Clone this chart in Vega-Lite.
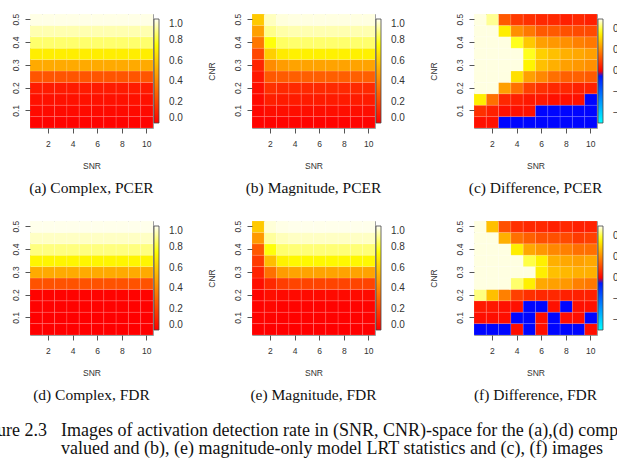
{
"$schema": "https://vega.github.io/schema/vega-lite/v6.json",
"padding": {"left": -27, "top": 12, "right": -17, "bottom": 0},
"background": "white",
"config": {
  "view": {"stroke": "#999", "strokeWidth": 1},
  "font": "Liberation Sans",
  "axis": {"labelFont": "Liberation Sans", "labelFontSize": 8.5, "labelColor": "#333", "titleFont": "Liberation Sans", "titleFontSize": 8.5, "titleFontWeight": "normal", "titleColor": "#333", "tickColor": "#555", "tickSize": 5, "domain": false, "grid": false},
  "axisX": {"labelPadding": 6, "titlePadding": 14, "labelAngle": 0},
  "axisY": {"labelPadding": 5, "titlePadding": 17, "labelAngle": -90},
  "legend": {"gradientLength": 104, "gradientThickness": 5, "gradientStrokeColor": "#444", "gradientStrokeWidth": 0.8, "labelFont": "Liberation Sans", "labelFontSize": 10, "labelColor": "#333", "padding": 5, "offset": -4, "labelOverlap": false},
  "title": {"font": "Liberation Serif", "fontSize": 15.5, "fontWeight": "normal", "color": "#111", "orient": "bottom", "anchor": "middle", "frame": "group", "offset": 11},
  "concat": {"spacing": 17}
},
"datasets": {
"a": [
{"snr":1,"cnr":0.05,"rate":0.01},{"snr":1,"cnr":0.1,"rate":0.03},{"snr":1,"cnr":0.15,"rate":0.05},{"snr":1,"cnr":0.2,"rate":0.08},{"snr":1,"cnr":0.25,"rate":0.25},{"snr":1,"cnr":0.3,"rate":0.5},{"snr":1,"cnr":0.35,"rate":0.7},{"snr":1,"cnr":0.4,"rate":0.86},{"snr":1,"cnr":0.45,"rate":0.93},{"snr":1,"cnr":0.5,"rate":0.985},
{"snr":2,"cnr":0.05,"rate":0.01},{"snr":2,"cnr":0.1,"rate":0.03},{"snr":2,"cnr":0.15,"rate":0.05},{"snr":2,"cnr":0.2,"rate":0.08},{"snr":2,"cnr":0.25,"rate":0.25},{"snr":2,"cnr":0.3,"rate":0.5},{"snr":2,"cnr":0.35,"rate":0.7},{"snr":2,"cnr":0.4,"rate":0.86},{"snr":2,"cnr":0.45,"rate":0.93},{"snr":2,"cnr":0.5,"rate":0.985},
{"snr":3,"cnr":0.05,"rate":0.01},{"snr":3,"cnr":0.1,"rate":0.03},{"snr":3,"cnr":0.15,"rate":0.05},{"snr":3,"cnr":0.2,"rate":0.08},{"snr":3,"cnr":0.25,"rate":0.25},{"snr":3,"cnr":0.3,"rate":0.5},{"snr":3,"cnr":0.35,"rate":0.7},{"snr":3,"cnr":0.4,"rate":0.86},{"snr":3,"cnr":0.45,"rate":0.93},{"snr":3,"cnr":0.5,"rate":0.985},
{"snr":4,"cnr":0.05,"rate":0.01},{"snr":4,"cnr":0.1,"rate":0.03},{"snr":4,"cnr":0.15,"rate":0.05},{"snr":4,"cnr":0.2,"rate":0.08},{"snr":4,"cnr":0.25,"rate":0.25},{"snr":4,"cnr":0.3,"rate":0.5},{"snr":4,"cnr":0.35,"rate":0.7},{"snr":4,"cnr":0.4,"rate":0.86},{"snr":4,"cnr":0.45,"rate":0.93},{"snr":4,"cnr":0.5,"rate":0.985},
{"snr":5,"cnr":0.05,"rate":0.01},{"snr":5,"cnr":0.1,"rate":0.03},{"snr":5,"cnr":0.15,"rate":0.05},{"snr":5,"cnr":0.2,"rate":0.08},{"snr":5,"cnr":0.25,"rate":0.25},{"snr":5,"cnr":0.3,"rate":0.5},{"snr":5,"cnr":0.35,"rate":0.7},{"snr":5,"cnr":0.4,"rate":0.86},{"snr":5,"cnr":0.45,"rate":0.93},{"snr":5,"cnr":0.5,"rate":0.985},
{"snr":6,"cnr":0.05,"rate":0.01},{"snr":6,"cnr":0.1,"rate":0.03},{"snr":6,"cnr":0.15,"rate":0.05},{"snr":6,"cnr":0.2,"rate":0.08},{"snr":6,"cnr":0.25,"rate":0.25},{"snr":6,"cnr":0.3,"rate":0.5},{"snr":6,"cnr":0.35,"rate":0.7},{"snr":6,"cnr":0.4,"rate":0.86},{"snr":6,"cnr":0.45,"rate":0.93},{"snr":6,"cnr":0.5,"rate":0.985},
{"snr":7,"cnr":0.05,"rate":0.01},{"snr":7,"cnr":0.1,"rate":0.03},{"snr":7,"cnr":0.15,"rate":0.05},{"snr":7,"cnr":0.2,"rate":0.08},{"snr":7,"cnr":0.25,"rate":0.25},{"snr":7,"cnr":0.3,"rate":0.5},{"snr":7,"cnr":0.35,"rate":0.7},{"snr":7,"cnr":0.4,"rate":0.86},{"snr":7,"cnr":0.45,"rate":0.93},{"snr":7,"cnr":0.5,"rate":0.985},
{"snr":8,"cnr":0.05,"rate":0.01},{"snr":8,"cnr":0.1,"rate":0.03},{"snr":8,"cnr":0.15,"rate":0.05},{"snr":8,"cnr":0.2,"rate":0.08},{"snr":8,"cnr":0.25,"rate":0.25},{"snr":8,"cnr":0.3,"rate":0.5},{"snr":8,"cnr":0.35,"rate":0.7},{"snr":8,"cnr":0.4,"rate":0.86},{"snr":8,"cnr":0.45,"rate":0.93},{"snr":8,"cnr":0.5,"rate":0.985},
{"snr":9,"cnr":0.05,"rate":0.01},{"snr":9,"cnr":0.1,"rate":0.03},{"snr":9,"cnr":0.15,"rate":0.05},{"snr":9,"cnr":0.2,"rate":0.08},{"snr":9,"cnr":0.25,"rate":0.25},{"snr":9,"cnr":0.3,"rate":0.5},{"snr":9,"cnr":0.35,"rate":0.7},{"snr":9,"cnr":0.4,"rate":0.86},{"snr":9,"cnr":0.45,"rate":0.93},{"snr":9,"cnr":0.5,"rate":0.985},
{"snr":10,"cnr":0.05,"rate":0.01},{"snr":10,"cnr":0.1,"rate":0.03},{"snr":10,"cnr":0.15,"rate":0.05},{"snr":10,"cnr":0.2,"rate":0.08},{"snr":10,"cnr":0.25,"rate":0.25},{"snr":10,"cnr":0.3,"rate":0.5},{"snr":10,"cnr":0.35,"rate":0.7},{"snr":10,"cnr":0.4,"rate":0.86},{"snr":10,"cnr":0.45,"rate":0.93},{"snr":10,"cnr":0.5,"rate":0.985}
],
"b": [
{"snr":1,"cnr":0.05,"rate":0.01},{"snr":1,"cnr":0.1,"rate":0.02},{"snr":1,"cnr":0.15,"rate":0.03},{"snr":1,"cnr":0.2,"rate":0.04},{"snr":1,"cnr":0.25,"rate":0.07},{"snr":1,"cnr":0.3,"rate":0.11},{"snr":1,"cnr":0.35,"rate":0.21},{"snr":1,"cnr":0.4,"rate":0.35},{"snr":1,"cnr":0.45,"rate":0.47},{"snr":1,"cnr":0.5,"rate":0.59},
{"snr":2,"cnr":0.05,"rate":0.01},{"snr":2,"cnr":0.1,"rate":0.04},{"snr":2,"cnr":0.15,"rate":0.09},{"snr":2,"cnr":0.2,"rate":0.14},{"snr":2,"cnr":0.25,"rate":0.26},{"snr":2,"cnr":0.3,"rate":0.41},{"snr":2,"cnr":0.35,"rate":0.61},{"snr":2,"cnr":0.4,"rate":0.76},{"snr":2,"cnr":0.45,"rate":0.89},{"snr":2,"cnr":0.5,"rate":0.945},
{"snr":3,"cnr":0.05,"rate":0.01},{"snr":3,"cnr":0.1,"rate":0.04},{"snr":3,"cnr":0.15,"rate":0.08},{"snr":3,"cnr":0.2,"rate":0.12},{"snr":3,"cnr":0.25,"rate":0.27},{"snr":3,"cnr":0.3,"rate":0.46},{"snr":3,"cnr":0.35,"rate":0.69},{"snr":3,"cnr":0.4,"rate":0.85},{"snr":3,"cnr":0.45,"rate":0.92},{"snr":3,"cnr":0.5,"rate":0.975},
{"snr":4,"cnr":0.05,"rate":0.01},{"snr":4,"cnr":0.1,"rate":0.04},{"snr":4,"cnr":0.15,"rate":0.08},{"snr":4,"cnr":0.2,"rate":0.12},{"snr":4,"cnr":0.25,"rate":0.28},{"snr":4,"cnr":0.3,"rate":0.48},{"snr":4,"cnr":0.35,"rate":0.71},{"snr":4,"cnr":0.4,"rate":0.86},{"snr":4,"cnr":0.45,"rate":0.93},{"snr":4,"cnr":0.5,"rate":0.98},
{"snr":5,"cnr":0.05,"rate":0.01},{"snr":5,"cnr":0.1,"rate":0.04},{"snr":5,"cnr":0.15,"rate":0.08},{"snr":5,"cnr":0.2,"rate":0.12},{"snr":5,"cnr":0.25,"rate":0.28},{"snr":5,"cnr":0.3,"rate":0.48},{"snr":5,"cnr":0.35,"rate":0.71},{"snr":5,"cnr":0.4,"rate":0.86},{"snr":5,"cnr":0.45,"rate":0.93},{"snr":5,"cnr":0.5,"rate":0.98},
{"snr":6,"cnr":0.05,"rate":0.01},{"snr":6,"cnr":0.1,"rate":0.04},{"snr":6,"cnr":0.15,"rate":0.08},{"snr":6,"cnr":0.2,"rate":0.12},{"snr":6,"cnr":0.25,"rate":0.28},{"snr":6,"cnr":0.3,"rate":0.48},{"snr":6,"cnr":0.35,"rate":0.71},{"snr":6,"cnr":0.4,"rate":0.86},{"snr":6,"cnr":0.45,"rate":0.93},{"snr":6,"cnr":0.5,"rate":0.98},
{"snr":7,"cnr":0.05,"rate":0.01},{"snr":7,"cnr":0.1,"rate":0.04},{"snr":7,"cnr":0.15,"rate":0.08},{"snr":7,"cnr":0.2,"rate":0.12},{"snr":7,"cnr":0.25,"rate":0.28},{"snr":7,"cnr":0.3,"rate":0.48},{"snr":7,"cnr":0.35,"rate":0.71},{"snr":7,"cnr":0.4,"rate":0.86},{"snr":7,"cnr":0.45,"rate":0.93},{"snr":7,"cnr":0.5,"rate":0.98},
{"snr":8,"cnr":0.05,"rate":0.01},{"snr":8,"cnr":0.1,"rate":0.04},{"snr":8,"cnr":0.15,"rate":0.08},{"snr":8,"cnr":0.2,"rate":0.12},{"snr":8,"cnr":0.25,"rate":0.28},{"snr":8,"cnr":0.3,"rate":0.48},{"snr":8,"cnr":0.35,"rate":0.71},{"snr":8,"cnr":0.4,"rate":0.86},{"snr":8,"cnr":0.45,"rate":0.93},{"snr":8,"cnr":0.5,"rate":0.98},
{"snr":9,"cnr":0.05,"rate":0.01},{"snr":9,"cnr":0.1,"rate":0.04},{"snr":9,"cnr":0.15,"rate":0.08},{"snr":9,"cnr":0.2,"rate":0.12},{"snr":9,"cnr":0.25,"rate":0.28},{"snr":9,"cnr":0.3,"rate":0.48},{"snr":9,"cnr":0.35,"rate":0.71},{"snr":9,"cnr":0.4,"rate":0.86},{"snr":9,"cnr":0.45,"rate":0.93},{"snr":9,"cnr":0.5,"rate":0.98},
{"snr":10,"cnr":0.05,"rate":0.01},{"snr":10,"cnr":0.1,"rate":0.04},{"snr":10,"cnr":0.15,"rate":0.08},{"snr":10,"cnr":0.2,"rate":0.12},{"snr":10,"cnr":0.25,"rate":0.28},{"snr":10,"cnr":0.3,"rate":0.48},{"snr":10,"cnr":0.35,"rate":0.71},{"snr":10,"cnr":0.4,"rate":0.86},{"snr":10,"cnr":0.45,"rate":0.93},{"snr":10,"cnr":0.5,"rate":0.98}
],
"c": [
{"snr":1,"cnr":0.05,"rate":0.024},{"snr":2,"cnr":0.05,"rate":0.024},{"snr":3,"cnr":0.05,"rate":-0.01},{"snr":4,"cnr":0.05,"rate":-0.01},{"snr":5,"cnr":0.05,"rate":-0.01},{"snr":6,"cnr":0.05,"rate":-0.01},{"snr":7,"cnr":0.05,"rate":-0.01},{"snr":8,"cnr":0.05,"rate":-0.01},{"snr":9,"cnr":0.05,"rate":-0.01},{"snr":10,"cnr":0.05,"rate":-0.01},
{"snr":1,"cnr":0.1,"rate":0.07},{"snr":2,"cnr":0.1,"rate":0.047},{"snr":3,"cnr":0.1,"rate":0.024},{"snr":4,"cnr":0.1,"rate":0.024},{"snr":5,"cnr":0.1,"rate":0.024},{"snr":6,"cnr":0.1,"rate":-0.01},{"snr":7,"cnr":0.1,"rate":-0.01},{"snr":8,"cnr":0.1,"rate":-0.01},{"snr":9,"cnr":0.1,"rate":-0.01},{"snr":10,"cnr":0.1,"rate":-0.01},
{"snr":1,"cnr":0.15,"rate":0.35},{"snr":2,"cnr":0.15,"rate":0.165},{"snr":3,"cnr":0.15,"rate":0.059},{"snr":4,"cnr":0.15,"rate":0.047},{"snr":5,"cnr":0.15,"rate":0.035},{"snr":6,"cnr":0.15,"rate":0.035},{"snr":7,"cnr":0.15,"rate":0.024},{"snr":8,"cnr":0.15,"rate":0.024},{"snr":9,"cnr":0.15,"rate":0.024},{"snr":10,"cnr":0.15,"rate":-0.01},
{"snr":1,"cnr":0.2,"rate":0.49},{"snr":2,"cnr":0.2,"rate":0.49},{"snr":3,"cnr":0.2,"rate":0.235},{"snr":4,"cnr":0.2,"rate":0.165},{"snr":5,"cnr":0.2,"rate":0.094},{"snr":6,"cnr":0.2,"rate":0.07},{"snr":7,"cnr":0.2,"rate":0.059},{"snr":8,"cnr":0.2,"rate":0.059},{"snr":9,"cnr":0.2,"rate":0.047},{"snr":10,"cnr":0.2,"rate":0.047},
{"snr":1,"cnr":0.25,"rate":0.49},{"snr":2,"cnr":0.25,"rate":0.49},{"snr":3,"cnr":0.25,"rate":0.49},{"snr":4,"cnr":0.25,"rate":0.33},{"snr":5,"cnr":0.25,"rate":0.235},{"snr":6,"cnr":0.25,"rate":0.2},{"snr":7,"cnr":0.25,"rate":0.165},{"snr":8,"cnr":0.25,"rate":0.141},{"snr":9,"cnr":0.25,"rate":0.141},{"snr":10,"cnr":0.25,"rate":0.132},
{"snr":1,"cnr":0.3,"rate":0.49},{"snr":2,"cnr":0.3,"rate":0.49},{"snr":3,"cnr":0.3,"rate":0.49},{"snr":4,"cnr":0.3,"rate":0.49},{"snr":5,"cnr":0.3,"rate":0.36},{"snr":6,"cnr":0.3,"rate":0.282},{"snr":7,"cnr":0.3,"rate":0.259},{"snr":8,"cnr":0.3,"rate":0.235},{"snr":9,"cnr":0.3,"rate":0.224},{"snr":10,"cnr":0.3,"rate":0.212},
{"snr":1,"cnr":0.35,"rate":0.49},{"snr":2,"cnr":0.35,"rate":0.49},{"snr":3,"cnr":0.35,"rate":0.49},{"snr":4,"cnr":0.35,"rate":0.49},{"snr":5,"cnr":0.35,"rate":0.39},{"snr":6,"cnr":0.35,"rate":0.306},{"snr":7,"cnr":0.35,"rate":0.282},{"snr":8,"cnr":0.35,"rate":0.259},{"snr":9,"cnr":0.35,"rate":0.247},{"snr":10,"cnr":0.35,"rate":0.235},
{"snr":1,"cnr":0.4,"rate":0.49},{"snr":2,"cnr":0.4,"rate":0.49},{"snr":3,"cnr":0.4,"rate":0.49},{"snr":4,"cnr":0.4,"rate":0.39},{"snr":5,"cnr":0.4,"rate":0.294},{"snr":6,"cnr":0.4,"rate":0.235},{"snr":7,"cnr":0.4,"rate":0.224},{"snr":8,"cnr":0.4,"rate":0.212},{"snr":9,"cnr":0.4,"rate":0.188},{"snr":10,"cnr":0.4,"rate":0.176},
{"snr":1,"cnr":0.45,"rate":0.49},{"snr":2,"cnr":0.45,"rate":0.49},{"snr":3,"cnr":0.45,"rate":0.35},{"snr":4,"cnr":0.45,"rate":0.212},{"snr":5,"cnr":0.45,"rate":0.176},{"snr":6,"cnr":0.45,"rate":0.132},{"snr":7,"cnr":0.45,"rate":0.132},{"snr":8,"cnr":0.45,"rate":0.118},{"snr":9,"cnr":0.45,"rate":0.109},{"snr":10,"cnr":0.45,"rate":0.109},
{"snr":1,"cnr":0.5,"rate":0.49},{"snr":2,"cnr":0.5,"rate":0.45},{"snr":3,"cnr":0.5,"rate":0.13},{"snr":4,"cnr":0.5,"rate":0.085},{"snr":5,"cnr":0.5,"rate":0.07},{"snr":6,"cnr":0.5,"rate":0.059},{"snr":7,"cnr":0.5,"rate":0.059},{"snr":8,"cnr":0.5,"rate":0.047},{"snr":9,"cnr":0.5,"rate":0.059},{"snr":10,"cnr":0.5,"rate":0.047}
],
"d": [
{"snr":1,"cnr":0.05,"rate":0.0},{"snr":1,"cnr":0.1,"rate":0.0},{"snr":1,"cnr":0.15,"rate":0.005},{"snr":1,"cnr":0.2,"rate":0.01},{"snr":1,"cnr":0.25,"rate":0.24},{"snr":1,"cnr":0.3,"rate":0.5},{"snr":1,"cnr":0.35,"rate":0.72},{"snr":1,"cnr":0.4,"rate":0.88},{"snr":1,"cnr":0.45,"rate":0.95},{"snr":1,"cnr":0.5,"rate":0.99},
{"snr":2,"cnr":0.05,"rate":0.0},{"snr":2,"cnr":0.1,"rate":0.0},{"snr":2,"cnr":0.15,"rate":0.005},{"snr":2,"cnr":0.2,"rate":0.01},{"snr":2,"cnr":0.25,"rate":0.24},{"snr":2,"cnr":0.3,"rate":0.5},{"snr":2,"cnr":0.35,"rate":0.72},{"snr":2,"cnr":0.4,"rate":0.88},{"snr":2,"cnr":0.45,"rate":0.95},{"snr":2,"cnr":0.5,"rate":0.99},
{"snr":3,"cnr":0.05,"rate":0.0},{"snr":3,"cnr":0.1,"rate":0.0},{"snr":3,"cnr":0.15,"rate":0.005},{"snr":3,"cnr":0.2,"rate":0.01},{"snr":3,"cnr":0.25,"rate":0.24},{"snr":3,"cnr":0.3,"rate":0.5},{"snr":3,"cnr":0.35,"rate":0.72},{"snr":3,"cnr":0.4,"rate":0.88},{"snr":3,"cnr":0.45,"rate":0.95},{"snr":3,"cnr":0.5,"rate":0.99},
{"snr":4,"cnr":0.05,"rate":0.0},{"snr":4,"cnr":0.1,"rate":0.0},{"snr":4,"cnr":0.15,"rate":0.005},{"snr":4,"cnr":0.2,"rate":0.01},{"snr":4,"cnr":0.25,"rate":0.24},{"snr":4,"cnr":0.3,"rate":0.5},{"snr":4,"cnr":0.35,"rate":0.72},{"snr":4,"cnr":0.4,"rate":0.88},{"snr":4,"cnr":0.45,"rate":0.95},{"snr":4,"cnr":0.5,"rate":0.99},
{"snr":5,"cnr":0.05,"rate":0.0},{"snr":5,"cnr":0.1,"rate":0.0},{"snr":5,"cnr":0.15,"rate":0.005},{"snr":5,"cnr":0.2,"rate":0.01},{"snr":5,"cnr":0.25,"rate":0.24},{"snr":5,"cnr":0.3,"rate":0.5},{"snr":5,"cnr":0.35,"rate":0.72},{"snr":5,"cnr":0.4,"rate":0.88},{"snr":5,"cnr":0.45,"rate":0.95},{"snr":5,"cnr":0.5,"rate":0.99},
{"snr":6,"cnr":0.05,"rate":0.0},{"snr":6,"cnr":0.1,"rate":0.0},{"snr":6,"cnr":0.15,"rate":0.005},{"snr":6,"cnr":0.2,"rate":0.01},{"snr":6,"cnr":0.25,"rate":0.24},{"snr":6,"cnr":0.3,"rate":0.5},{"snr":6,"cnr":0.35,"rate":0.72},{"snr":6,"cnr":0.4,"rate":0.88},{"snr":6,"cnr":0.45,"rate":0.95},{"snr":6,"cnr":0.5,"rate":0.99},
{"snr":7,"cnr":0.05,"rate":0.0},{"snr":7,"cnr":0.1,"rate":0.0},{"snr":7,"cnr":0.15,"rate":0.005},{"snr":7,"cnr":0.2,"rate":0.01},{"snr":7,"cnr":0.25,"rate":0.24},{"snr":7,"cnr":0.3,"rate":0.5},{"snr":7,"cnr":0.35,"rate":0.72},{"snr":7,"cnr":0.4,"rate":0.88},{"snr":7,"cnr":0.45,"rate":0.95},{"snr":7,"cnr":0.5,"rate":0.99},
{"snr":8,"cnr":0.05,"rate":0.0},{"snr":8,"cnr":0.1,"rate":0.0},{"snr":8,"cnr":0.15,"rate":0.005},{"snr":8,"cnr":0.2,"rate":0.01},{"snr":8,"cnr":0.25,"rate":0.24},{"snr":8,"cnr":0.3,"rate":0.5},{"snr":8,"cnr":0.35,"rate":0.72},{"snr":8,"cnr":0.4,"rate":0.88},{"snr":8,"cnr":0.45,"rate":0.95},{"snr":8,"cnr":0.5,"rate":0.99},
{"snr":9,"cnr":0.05,"rate":0.0},{"snr":9,"cnr":0.1,"rate":0.0},{"snr":9,"cnr":0.15,"rate":0.005},{"snr":9,"cnr":0.2,"rate":0.01},{"snr":9,"cnr":0.25,"rate":0.24},{"snr":9,"cnr":0.3,"rate":0.5},{"snr":9,"cnr":0.35,"rate":0.72},{"snr":9,"cnr":0.4,"rate":0.88},{"snr":9,"cnr":0.45,"rate":0.95},{"snr":9,"cnr":0.5,"rate":0.99},
{"snr":10,"cnr":0.05,"rate":0.0},{"snr":10,"cnr":0.1,"rate":0.0},{"snr":10,"cnr":0.15,"rate":0.005},{"snr":10,"cnr":0.2,"rate":0.01},{"snr":10,"cnr":0.25,"rate":0.24},{"snr":10,"cnr":0.3,"rate":0.5},{"snr":10,"cnr":0.35,"rate":0.72},{"snr":10,"cnr":0.4,"rate":0.88},{"snr":10,"cnr":0.45,"rate":0.95},{"snr":10,"cnr":0.5,"rate":0.99}
],
"e": [
{"snr":1,"cnr":0.05,"rate":0.0},{"snr":1,"cnr":0.1,"rate":0.01},{"snr":1,"cnr":0.15,"rate":0.01},{"snr":1,"cnr":0.2,"rate":0.01},{"snr":1,"cnr":0.25,"rate":0.04},{"snr":1,"cnr":0.3,"rate":0.1},{"snr":1,"cnr":0.35,"rate":0.17},{"snr":1,"cnr":0.4,"rate":0.26},{"snr":1,"cnr":0.45,"rate":0.45},{"snr":1,"cnr":0.5,"rate":0.59},
{"snr":2,"cnr":0.05,"rate":0.0},{"snr":2,"cnr":0.1,"rate":0.01},{"snr":2,"cnr":0.15,"rate":0.02},{"snr":2,"cnr":0.2,"rate":0.04},{"snr":2,"cnr":0.25,"rate":0.12},{"snr":2,"cnr":0.3,"rate":0.33},{"snr":2,"cnr":0.35,"rate":0.56},{"snr":2,"cnr":0.4,"rate":0.76},{"snr":2,"cnr":0.45,"rate":0.91},{"snr":2,"cnr":0.5,"rate":0.97},
{"snr":3,"cnr":0.05,"rate":0.0},{"snr":3,"cnr":0.1,"rate":0.005},{"snr":3,"cnr":0.15,"rate":0.01},{"snr":3,"cnr":0.2,"rate":0.03},{"snr":3,"cnr":0.25,"rate":0.18},{"snr":3,"cnr":0.3,"rate":0.46},{"snr":3,"cnr":0.35,"rate":0.71},{"snr":3,"cnr":0.4,"rate":0.86},{"snr":3,"cnr":0.45,"rate":0.94},{"snr":3,"cnr":0.5,"rate":0.985},
{"snr":4,"cnr":0.05,"rate":0.0},{"snr":4,"cnr":0.1,"rate":0.005},{"snr":4,"cnr":0.15,"rate":0.01},{"snr":4,"cnr":0.2,"rate":0.03},{"snr":4,"cnr":0.25,"rate":0.2},{"snr":4,"cnr":0.3,"rate":0.48},{"snr":4,"cnr":0.35,"rate":0.73},{"snr":4,"cnr":0.4,"rate":0.87},{"snr":4,"cnr":0.45,"rate":0.95},{"snr":4,"cnr":0.5,"rate":0.99},
{"snr":5,"cnr":0.05,"rate":0.0},{"snr":5,"cnr":0.1,"rate":0.005},{"snr":5,"cnr":0.15,"rate":0.01},{"snr":5,"cnr":0.2,"rate":0.03},{"snr":5,"cnr":0.25,"rate":0.2},{"snr":5,"cnr":0.3,"rate":0.48},{"snr":5,"cnr":0.35,"rate":0.73},{"snr":5,"cnr":0.4,"rate":0.87},{"snr":5,"cnr":0.45,"rate":0.95},{"snr":5,"cnr":0.5,"rate":0.99},
{"snr":6,"cnr":0.05,"rate":0.0},{"snr":6,"cnr":0.1,"rate":0.005},{"snr":6,"cnr":0.15,"rate":0.01},{"snr":6,"cnr":0.2,"rate":0.03},{"snr":6,"cnr":0.25,"rate":0.2},{"snr":6,"cnr":0.3,"rate":0.48},{"snr":6,"cnr":0.35,"rate":0.73},{"snr":6,"cnr":0.4,"rate":0.87},{"snr":6,"cnr":0.45,"rate":0.95},{"snr":6,"cnr":0.5,"rate":0.99},
{"snr":7,"cnr":0.05,"rate":0.0},{"snr":7,"cnr":0.1,"rate":0.005},{"snr":7,"cnr":0.15,"rate":0.01},{"snr":7,"cnr":0.2,"rate":0.03},{"snr":7,"cnr":0.25,"rate":0.2},{"snr":7,"cnr":0.3,"rate":0.48},{"snr":7,"cnr":0.35,"rate":0.73},{"snr":7,"cnr":0.4,"rate":0.87},{"snr":7,"cnr":0.45,"rate":0.95},{"snr":7,"cnr":0.5,"rate":0.99},
{"snr":8,"cnr":0.05,"rate":0.0},{"snr":8,"cnr":0.1,"rate":0.005},{"snr":8,"cnr":0.15,"rate":0.01},{"snr":8,"cnr":0.2,"rate":0.03},{"snr":8,"cnr":0.25,"rate":0.2},{"snr":8,"cnr":0.3,"rate":0.48},{"snr":8,"cnr":0.35,"rate":0.73},{"snr":8,"cnr":0.4,"rate":0.87},{"snr":8,"cnr":0.45,"rate":0.95},{"snr":8,"cnr":0.5,"rate":0.99},
{"snr":9,"cnr":0.05,"rate":0.0},{"snr":9,"cnr":0.1,"rate":0.005},{"snr":9,"cnr":0.15,"rate":0.01},{"snr":9,"cnr":0.2,"rate":0.03},{"snr":9,"cnr":0.25,"rate":0.2},{"snr":9,"cnr":0.3,"rate":0.48},{"snr":9,"cnr":0.35,"rate":0.73},{"snr":9,"cnr":0.4,"rate":0.87},{"snr":9,"cnr":0.45,"rate":0.95},{"snr":9,"cnr":0.5,"rate":0.99},
{"snr":10,"cnr":0.05,"rate":0.0},{"snr":10,"cnr":0.1,"rate":0.005},{"snr":10,"cnr":0.15,"rate":0.01},{"snr":10,"cnr":0.2,"rate":0.03},{"snr":10,"cnr":0.25,"rate":0.2},{"snr":10,"cnr":0.3,"rate":0.48},{"snr":10,"cnr":0.35,"rate":0.73},{"snr":10,"cnr":0.4,"rate":0.87},{"snr":10,"cnr":0.45,"rate":0.95},{"snr":10,"cnr":0.5,"rate":0.99}
],
"f": [
{"snr":1,"cnr":0.05,"rate":-0.01},{"snr":2,"cnr":0.05,"rate":-0.01},{"snr":3,"cnr":0.05,"rate":-0.01},{"snr":4,"cnr":0.05,"rate":0.02},{"snr":5,"cnr":0.05,"rate":-0.01},{"snr":6,"cnr":0.05,"rate":0.02},{"snr":7,"cnr":0.05,"rate":-0.01},{"snr":8,"cnr":0.05,"rate":-0.01},{"snr":9,"cnr":0.05,"rate":-0.01},{"snr":10,"cnr":0.05,"rate":0.02},
{"snr":1,"cnr":0.1,"rate":0.02},{"snr":2,"cnr":0.1,"rate":0.02},{"snr":3,"cnr":0.1,"rate":0.02},{"snr":4,"cnr":0.1,"rate":-0.01},{"snr":5,"cnr":0.1,"rate":-0.01},{"snr":6,"cnr":0.1,"rate":0.02},{"snr":7,"cnr":0.1,"rate":-0.01},{"snr":8,"cnr":0.1,"rate":0.02},{"snr":9,"cnr":0.1,"rate":0.02},{"snr":10,"cnr":0.1,"rate":-0.01},
{"snr":1,"cnr":0.15,"rate":0.035},{"snr":2,"cnr":0.15,"rate":0.035},{"snr":3,"cnr":0.15,"rate":0.024},{"snr":4,"cnr":0.15,"rate":0.024},{"snr":5,"cnr":0.15,"rate":-0.01},{"snr":6,"cnr":0.15,"rate":-0.01},{"snr":7,"cnr":0.15,"rate":0.024},{"snr":8,"cnr":0.15,"rate":-0.01},{"snr":9,"cnr":0.15,"rate":0.024},{"snr":10,"cnr":0.15,"rate":0.024},
{"snr":1,"cnr":0.2,"rate":0.44},{"snr":2,"cnr":0.2,"rate":0.282},{"snr":3,"cnr":0.2,"rate":0.188},{"snr":4,"cnr":0.2,"rate":0.094},{"snr":5,"cnr":0.2,"rate":0.07},{"snr":6,"cnr":0.2,"rate":0.059},{"snr":7,"cnr":0.2,"rate":0.059},{"snr":8,"cnr":0.2,"rate":0.047},{"snr":9,"cnr":0.2,"rate":0.047},{"snr":10,"cnr":0.2,"rate":0.047},
{"snr":1,"cnr":0.25,"rate":0.49},{"snr":2,"cnr":0.25,"rate":0.49},{"snr":3,"cnr":0.25,"rate":0.49},{"snr":4,"cnr":0.25,"rate":0.43},{"snr":5,"cnr":0.25,"rate":0.353},{"snr":6,"cnr":0.25,"rate":0.247},{"snr":7,"cnr":0.25,"rate":0.235},{"snr":8,"cnr":0.25,"rate":0.224},{"snr":9,"cnr":0.25,"rate":0.188},{"snr":10,"cnr":0.25,"rate":0.176},
{"snr":1,"cnr":0.3,"rate":0.49},{"snr":2,"cnr":0.3,"rate":0.49},{"snr":3,"cnr":0.3,"rate":0.49},{"snr":4,"cnr":0.3,"rate":0.49},{"snr":5,"cnr":0.3,"rate":0.49},{"snr":6,"cnr":0.3,"rate":0.35},{"snr":7,"cnr":0.3,"rate":0.282},{"snr":8,"cnr":0.3,"rate":0.27},{"snr":9,"cnr":0.3,"rate":0.259},{"snr":10,"cnr":0.3,"rate":0.259},
{"snr":1,"cnr":0.35,"rate":0.49},{"snr":2,"cnr":0.35,"rate":0.49},{"snr":3,"cnr":0.35,"rate":0.49},{"snr":4,"cnr":0.35,"rate":0.49},{"snr":5,"cnr":0.35,"rate":0.41},{"snr":6,"cnr":0.35,"rate":0.353},{"snr":7,"cnr":0.35,"rate":0.259},{"snr":8,"cnr":0.35,"rate":0.247},{"snr":9,"cnr":0.35,"rate":0.235},{"snr":10,"cnr":0.35,"rate":0.247},
{"snr":1,"cnr":0.4,"rate":0.49},{"snr":2,"cnr":0.4,"rate":0.49},{"snr":3,"cnr":0.4,"rate":0.49},{"snr":4,"cnr":0.4,"rate":0.35},{"snr":5,"cnr":0.4,"rate":0.247},{"snr":6,"cnr":0.4,"rate":0.224},{"snr":7,"cnr":0.4,"rate":0.2},{"snr":8,"cnr":0.4,"rate":0.188},{"snr":9,"cnr":0.4,"rate":0.165},{"snr":10,"cnr":0.4,"rate":0.165},
{"snr":1,"cnr":0.45,"rate":0.49},{"snr":2,"cnr":0.45,"rate":0.49},{"snr":3,"cnr":0.45,"rate":0.259},{"snr":4,"cnr":0.45,"rate":0.165},{"snr":5,"cnr":0.45,"rate":0.141},{"snr":6,"cnr":0.45,"rate":0.118},{"snr":7,"cnr":0.45,"rate":0.118},{"snr":8,"cnr":0.45,"rate":0.109},{"snr":9,"cnr":0.45,"rate":0.085},{"snr":10,"cnr":0.45,"rate":0.094},
{"snr":1,"cnr":0.5,"rate":0.49},{"snr":2,"cnr":0.5,"rate":0.282},{"snr":3,"cnr":0.5,"rate":0.118},{"snr":4,"cnr":0.5,"rate":0.07},{"snr":5,"cnr":0.5,"rate":0.059},{"snr":6,"cnr":0.5,"rate":0.059},{"snr":7,"cnr":0.5,"rate":0.047},{"snr":8,"cnr":0.5,"rate":0.059},{"snr":9,"cnr":0.5,"rate":0.047},{"snr":10,"cnr":0.5,"rate":0.047}
],
"caption": [
{"line": 1, "part": "label", "text": "Figure 2.3"},
{"line": 1, "part": "body", "text": "Images of activation detection rate in (SNR, CNR)-space for the (a),(d) complex-"},
{"line": 2, "part": "body", "text": "valued and (b), (e) magnitude-only model LRT statistics and (c), (f) images"}
]
},
"vconcat": [
{
"vconcat": [
{"hconcat": [
 {"width": 123, "height": 114, "data": {"name": "a"}, "title": {"text": "(a) Complex, PCER"},
  "mark": {"type": "rect", "stroke": "white", "strokeWidth": 0.4, "strokeOpacity": 0.3},
  "encoding": {
   "x": {"field": "snr", "type": "ordinal", "scale": {"paddingInner": 0, "paddingOuter": 0}, "axis": {"values": [2,4,6,8,10], "title": "SNR"}},
   "y": {"field": "cnr", "type": "ordinal", "sort": "descending", "scale": {"paddingInner": 0, "paddingOuter": 0}, "axis": {"values": [0.1,0.2,0.3,0.4,0.5], "format": ".1f", "title": "CNR"}},
   "color": {"field": "rate", "type": "quantitative", "scale": {"domain": [0, 0.75, 1], "range": ["#ff0000", "#ffff00", "#fffff5"], "interpolate": "rgb"}, "legend": {"title": null, "values": [0,0.2,0.4,0.6,0.8,1], "format": ".1f", "labelOffset": 10, "labelBaseline": "middle"}}
  }},
 {"width": 123, "height": 114, "data": {"name": "b"}, "title": {"text": "(b) Magnitude, PCER"},
  "mark": {"type": "rect", "stroke": "white", "strokeWidth": 0.4, "strokeOpacity": 0.3},
  "encoding": {
   "x": {"field": "snr", "type": "ordinal", "scale": {"paddingInner": 0, "paddingOuter": 0}, "axis": {"values": [2,4,6,8,10], "title": "SNR"}},
   "y": {"field": "cnr", "type": "ordinal", "sort": "descending", "scale": {"paddingInner": 0, "paddingOuter": 0}, "axis": {"values": [0.1,0.2,0.3,0.4,0.5], "format": ".1f", "title": "CNR"}},
   "color": {"field": "rate", "type": "quantitative", "scale": {"domain": [0, 0.75, 1], "range": ["#ff0000", "#ffff00", "#fffff5"], "interpolate": "rgb"}, "legend": {"title": null, "values": [0,0.2,0.4,0.6,0.8,1], "format": ".1f", "labelOffset": 10, "labelBaseline": "middle"}}
  }},
 {"width": 123, "height": 114, "data": {"name": "c"}, "title": {"text": "(c) Difference, PCER"},
  "mark": {"type": "rect", "stroke": "white", "strokeWidth": 0.4, "strokeOpacity": 0.3},
  "encoding": {
   "x": {"field": "snr", "type": "ordinal", "scale": {"paddingInner": 0, "paddingOuter": 0}, "axis": {"values": [2,4,6,8,10], "title": "SNR"}},
   "y": {"field": "cnr", "type": "ordinal", "sort": "descending", "scale": {"paddingInner": 0, "paddingOuter": 0}, "axis": {"values": [0.1,0.2,0.3,0.4,0.5], "format": ".1f", "title": "CNR"}},
   "color": {"field": "rate", "type": "quantitative", "scale": {"domain": [-0.5, -0.001, 0, 0.375, 0.5], "range": ["#00ffff", "#0000ff", "#ff0000", "#ffff00", "#fffff5"], "interpolate": "rgb"}, "legend": {"title": null, "values": [-0.4,-0.2,0,0.2,0.4], "format": ".1f", "labelOffset": 10, "labelBaseline": "middle"}}
  }}
], "resolve": {"scale": {"color": "independent"}, "legend": {"color": "independent"}}},
{"hconcat": [
 {"width": 123, "height": 114, "data": {"name": "d"}, "title": {"text": "(d) Complex, FDR"},
  "mark": {"type": "rect", "stroke": "white", "strokeWidth": 0.4, "strokeOpacity": 0.3},
  "encoding": {
   "x": {"field": "snr", "type": "ordinal", "scale": {"paddingInner": 0, "paddingOuter": 0}, "axis": {"values": [2,4,6,8,10], "title": "SNR"}},
   "y": {"field": "cnr", "type": "ordinal", "sort": "descending", "scale": {"paddingInner": 0, "paddingOuter": 0}, "axis": {"values": [0.1,0.2,0.3,0.4,0.5], "format": ".1f", "title": "CNR"}},
   "color": {"field": "rate", "type": "quantitative", "scale": {"domain": [0, 0.75, 1], "range": ["#ff0000", "#ffff00", "#fffff5"], "interpolate": "rgb"}, "legend": {"title": null, "values": [0,0.2,0.4,0.6,0.8,1], "format": ".1f", "labelOffset": 10, "labelBaseline": "middle"}}
  }},
 {"width": 123, "height": 114, "data": {"name": "e"}, "title": {"text": "(e) Magnitude, FDR"},
  "mark": {"type": "rect", "stroke": "white", "strokeWidth": 0.4, "strokeOpacity": 0.3},
  "encoding": {
   "x": {"field": "snr", "type": "ordinal", "scale": {"paddingInner": 0, "paddingOuter": 0}, "axis": {"values": [2,4,6,8,10], "title": "SNR"}},
   "y": {"field": "cnr", "type": "ordinal", "sort": "descending", "scale": {"paddingInner": 0, "paddingOuter": 0}, "axis": {"values": [0.1,0.2,0.3,0.4,0.5], "format": ".1f", "title": "CNR"}},
   "color": {"field": "rate", "type": "quantitative", "scale": {"domain": [0, 0.75, 1], "range": ["#ff0000", "#ffff00", "#fffff5"], "interpolate": "rgb"}, "legend": {"title": null, "values": [0,0.2,0.4,0.6,0.8,1], "format": ".1f", "labelOffset": 10, "labelBaseline": "middle"}}
  }},
 {"width": 123, "height": 114, "data": {"name": "f"}, "title": {"text": "(f) Difference, FDR"},
  "mark": {"type": "rect", "stroke": "white", "strokeWidth": 0.4, "strokeOpacity": 0.3},
  "encoding": {
   "x": {"field": "snr", "type": "ordinal", "scale": {"paddingInner": 0, "paddingOuter": 0}, "axis": {"values": [2,4,6,8,10], "title": "SNR"}},
   "y": {"field": "cnr", "type": "ordinal", "sort": "descending", "scale": {"paddingInner": 0, "paddingOuter": 0}, "axis": {"values": [0.1,0.2,0.3,0.4,0.5], "format": ".1f", "title": "CNR"}},
   "color": {"field": "rate", "type": "quantitative", "scale": {"domain": [-0.5, -0.001, 0, 0.375, 0.5], "range": ["#00ffff", "#0000ff", "#ff0000", "#ffff00", "#fffff5"], "interpolate": "rgb"}, "legend": {"title": null, "values": [-0.4,-0.2,0,0.2,0.4], "format": ".1f", "labelOffset": 10, "labelBaseline": "middle"}}
  }}
], "resolve": {"scale": {"color": "independent"}, "legend": {"color": "independent"}}}
],
"spacing": 22,
"resolve": {"scale": {"color": "independent"}, "legend": {"color": "independent"}}
},
{
 "width": 600, "height": 36,
 "view": {"stroke": null},
 "data": {"name": "caption"},
 "layer": [
  {"transform": [{"filter": "datum.part == 'label'"}],
   "mark": {"type": "text", "align": "right", "baseline": "middle", "font": "Liberation Serif", "fontSize": 18, "color": "#111"},
   "encoding": {"text": {"field": "text"}, "x": {"value": 17}, "y": {"field": "line", "type": "ordinal", "axis": null}}},
  {"transform": [{"filter": "datum.part == 'body'"}],
   "mark": {"type": "text", "align": "left", "baseline": "middle", "font": "Liberation Serif", "fontSize": 18, "color": "#111", "clip": true},
   "encoding": {"text": {"field": "text"}, "x": {"value": 31}, "y": {"field": "line", "type": "ordinal", "axis": null}}}
 ]
}
],
"spacing": 18,
"resolve": {"scale": {"color": "independent"}, "legend": {"color": "independent"}}
}
